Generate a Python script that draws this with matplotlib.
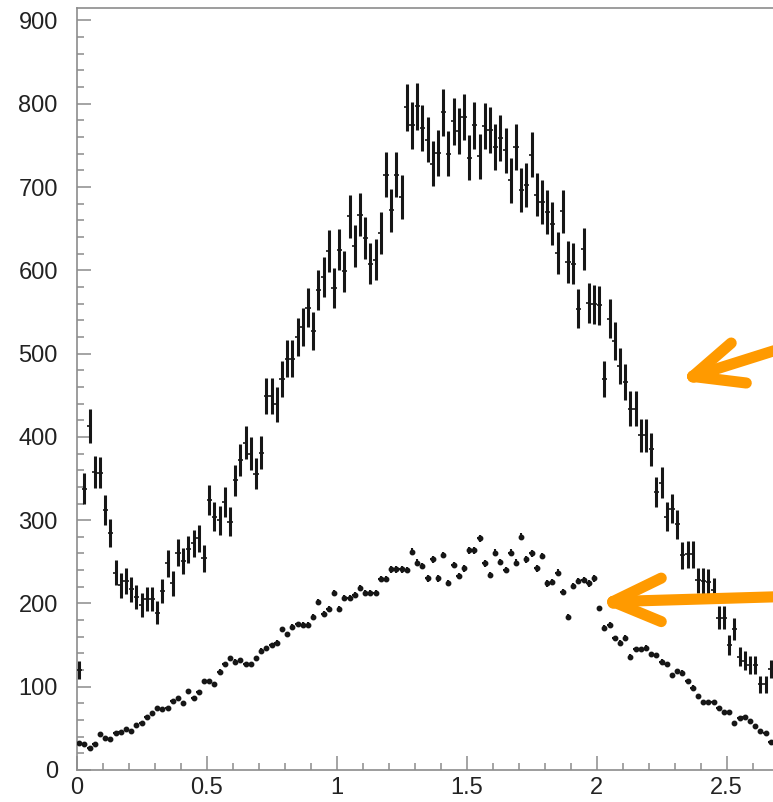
import numpy as np
import matplotlib
matplotlib.use("Agg")
import matplotlib.pyplot as plt
from matplotlib.ticker import MultipleLocator

# Histogram binning: 0.02-wide bins starting at 0
bin_width = 0.02
n_bins = 134

# Counts per bin, upper distribution
counts_upper = [
    120, 338, 413, 358, 357, 312, 285, 237, 222, 227,
    217, 208, 198, 205, 205, 189, 215, 248, 224, 261,
    251, 265, 272, 278, 254, 324, 304, 300, 322, 298,
    348, 372, 393, 380, 356, 381, 449, 449, 439, 469,
    494, 494, 520, 532, 555, 527, 576, 592, 623, 579,
    625, 599, 665, 629, 667, 639, 608, 613, 645, 715,
    672, 715, 688, 796, 774, 797, 771, 757, 728, 741,
    790, 740, 779, 767, 784, 735, 774, 737, 773, 768,
    748, 759, 744, 708, 748, 696, 702, 739, 691, 682,
    670, 656, 621, 671, 610, 608, 554, 626, 561, 559,
    558, 470, 542, 515, 485, 466, 434, 434, 402, 402,
    385, 334, 345, 304, 314, 295, 258, 259, 259, 228,
    227, 226, 216, 183, 183, 150, 169, 136, 131, 126,
    126, 103, 103, 121,
]

# Counts per bin, lower distribution
counts_lower = [
    33, 31, 27, 31, 43, 38, 37, 45, 46, 49,
    47, 54, 56, 64, 69, 74, 73, 75, 83, 86,
    81, 95, 87, 94, 107, 107, 103, 118, 127, 134,
    130, 132, 127, 127, 134, 143, 146, 150, 153, 169,
    163, 172, 175, 174, 174, 184, 202, 187, 193, 212,
    193, 207, 206, 210, 219, 212, 212, 212, 229, 229,
    241, 241, 241, 240, 262, 249, 245, 230, 253, 230,
    258, 225, 246, 233, 242, 264, 264, 278, 248, 234,
    261, 250, 240, 261, 249, 280, 253, 260, 242, 257,
    224, 226, 237, 214, 184, 221, 227, 228, 224, 230,
    194, 171, 174, 158, 153, 159, 136, 145, 145, 147,
    139, 138, 130, 127, 114, 119, 117, 107, 99, 89,
    82, 82, 82, 75, 70, 70, 57, 63, 64, 59,
    53, 47, 44, 34,
]

x_ticks = [0, 0.5, 1, 1.5, 2, 2.5]
x_tick_labels = ["0", "0.5", "1", "1.5", "2", "2.5"]
y_ticks = [0, 100, 200, 300, 400, 500, 600, 700, 800, 900]

centers = bin_width * (np.arange(n_bins) + 0.5)
upper = np.array(counts_upper, dtype=float)
lower = np.array(counts_lower, dtype=float)

W, H, DPI = 773, 802, 100
fig = plt.figure(figsize=(W / DPI, H / DPI), dpi=DPI)
fig.patch.set_facecolor("white")

x_max = 2.7
left_px, bottom_px, right_px, top_px = 76.5, 770.0, 76.5 + 260 * x_max, 8.0
ax = fig.add_axes([left_px / W, 1 - bottom_px / H,
                   (right_px - left_px) / W, (bottom_px - top_px) / H])
ax.set_xlim(0, x_max)
ax.set_ylim(0, 915)

ink = "#161616"

# Upper histogram: Poisson error bars plus bin-width horizontal bars
ax.errorbar(centers, upper, yerr=np.sqrt(upper), fmt="none",
            ecolor=ink, elinewidth=2.2, capsize=0, zorder=3)
ax.errorbar(centers, upper, xerr=bin_width / 2, fmt="none",
            ecolor=ink, elinewidth=1.2, capsize=0, zorder=3)

# Lower histogram: small markers with short error bars
ax.errorbar(centers, lower, yerr=0.25 * np.sqrt(lower), xerr=bin_width / 2 * 0.85,
            fmt="o", ms=3.2, mfc=ink, mec=ink, ecolor=ink,
            elinewidth=1.5, capsize=0, zorder=3)

# Axes styling
frame = "#8c8c8c"
for side in ("left", "bottom", "top"):
    ax.spines[side].set_color(frame)
    ax.spines[side].set_linewidth(1.2)
ax.spines["right"].set_visible(False)

ax.set_xticks(x_ticks)
ax.set_xticklabels(x_tick_labels)
ax.set_yticks(y_ticks)
ax.xaxis.set_minor_locator(MultipleLocator(0.1))
ax.yaxis.set_minor_locator(MultipleLocator(20))
ax.tick_params(which="both", direction="in", color=frame, width=1.1,
               top=False, right=False)
ax.tick_params(which="major", length=10)
ax.tick_params(which="minor", length=5)
ax.tick_params(axis="y", which="major", pad=13.5)
ax.tick_params(axis="x", which="major", pad=5.0)
for lab in ax.get_xticklabels() + ax.get_yticklabels():
    lab.set_fontfamily("Liberation Sans")
    lab.set_fontsize(17)
    lab.set_color("#222222")

# Orange pointer arrows (open chevron heads)
orange = "#ff9a00"
arrows = [
    # tip, upper barb end, lower barb end, tail end
    ((2.370, 472.6), (2.518, 512.7), (2.576, 464.7), (2.80, 515.0)),
    ((2.063, 202.2), (2.249, 230.4), (2.249, 178.2), (2.80, 209.0)),
]
for tip, barb_a, barb_b, tail in arrows:
    for end in (barb_a, barb_b, tail):
        ax.plot([tip[0], end[0]], [tip[1], end[1]], color=orange, lw=8,
                solid_capstyle="round", clip_on=False, zorder=5)
    ax.plot([tip[0]], [tip[1]], marker="o", ms=8, color=orange,
            clip_on=False, zorder=5)

fig.savefig("out.png", dpi=DPI, facecolor="white")
